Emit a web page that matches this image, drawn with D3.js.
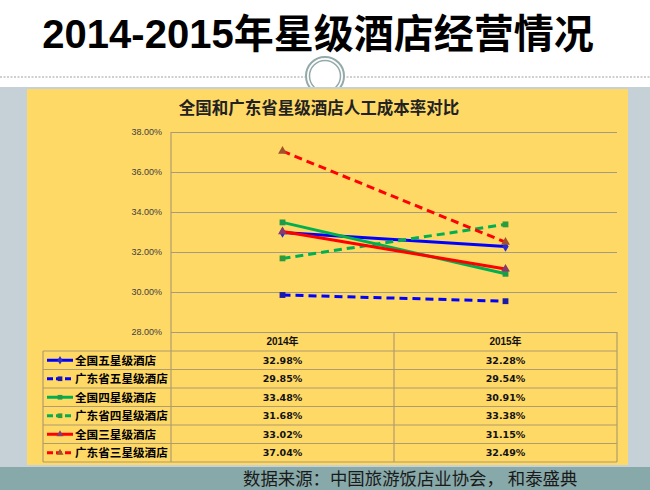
<!DOCTYPE html>
<html>
<head>
<meta charset="utf-8">
<script src="https://cdn.jsdelivr.net/npm/d3@7"></script>
<style>
  body { margin: 0; background: #fff; }
  svg { display: block; }
</style>
</head>
<body>
<div id="chart"></div>
<script>
// Data
var years = ["2014年", "2015年"];
var seriesNames = ["全国五星级酒店", "广东省五星级酒店", "全国四星级酒店", "广东省四星级酒店", "全国三星级酒店", "广东省三星级酒店"];
var values2014 = [0.3298, 0.2985, 0.3348, 0.3168, 0.3302, 0.3704];
var values2015 = [0.3228, 0.2954, 0.3091, 0.3338, 0.3115, 0.3249];
var yTicks = [0.28, 0.30, 0.32, 0.34, 0.36, 0.38];

var lineColors = ["#0000ff", "#0000ff", "#00b050", "#00b050", "#ff0000", "#ff0000"];
var markColors = ["#2a2ad0", "#1a1aa8", "#1f9a48", "#2f9a3a", "#8a3a6a", "#a0522d"];
var dashed = [false, true, false, true, false, true];
var shapes = [d3.symbolDiamond, d3.symbolSquare, d3.symbolSquare, d3.symbolSquare, d3.symbolTriangle, d3.symbolTriangle];

var w = 650, h = 490;
var plot = {left: 171, right: 617, top: 132, bottom: 332};
var rowTop = 351, rowH = 18.5;

var svg = d3.select("#chart").append("svg")
    .attr("width", w)
    .attr("height", h);

// Page background pieces
svg.append("rect").attr("x", 0).attr("y", 87).attr("width", w).attr("height", 382).attr("fill", "#c6d1d7");
svg.append("rect").attr("x", 0).attr("y", 467).attr("width", w).attr("height", 23).attr("fill", "#87a9a9");
svg.append("rect").attr("x", 27).attr("y", 89).attr("width", 601).attr("height", 376).attr("fill", "#ffd966");

// dotted separator and ring ornament
svg.append("line")
    .attr("x1", 0).attr("x2", w).attr("y1", 77).attr("y2", 77)
    .attr("stroke", "#a0a0a0").attr("stroke-width", 1).attr("stroke-dasharray", "2,1.5");
svg.append("circle").attr("cx", 325).attr("cy", 76).attr("r", 19)
    .attr("fill", "#fff").attr("stroke", "#93aaa9").attr("stroke-width", 2);
svg.append("circle").attr("cx", 325).attr("cy", 76).attr("r", 15.5)
    .attr("fill", "none").attr("stroke", "#93aaa9").attr("stroke-width", 1.5);
// yellow panel covers the lower part of the ring
svg.append("rect").attr("x", 27).attr("y", 89).attr("width", 601).attr("height", 12).attr("fill", "#ffd966");
svg.append("rect").attr("x", 300).attr("y", 87).attr("width", 50).attr("height", 2).attr("fill", "#c6d1d7");

// Main title
svg.append("text")
    .attr("x", 318).attr("y", 48)
    .attr("text-anchor", "middle")
    .style("font-family", "'Liberation Sans', 'Noto Sans CJK SC', sans-serif")
    .style("font-weight", "bold")
    .style("font-size", "40px")
    .attr("fill", "#000")
    .text("2014-2015年星级酒店经营情况");

// Chart title
svg.append("text")
    .attr("x", 319).attr("y", 114)
    .attr("text-anchor", "middle")
    .style("font-family", "'Noto Sans CJK SC', sans-serif")
    .style("font-weight", "bold")
    .style("font-size", "16.5px")
    .attr("fill", "#222")
    .text("全国和广东省星级酒店人工成本率对比");

// Scales
var xScale = d3.scaleBand()
    .domain(years)
    .range([plot.left, plot.right])
    .padding(0);

var yScale = d3.scaleLinear()
    .domain([0.28, 0.38])
    .range([plot.bottom, plot.top]);

// Y axis with gridlines
var yAxis = d3.axisLeft(yScale)
    .tickValues(yTicks)
    .tickFormat(d3.format(".2%"))
    .tickSizeInner(-(plot.right - plot.left))
    .tickSizeOuter(0)
    .tickPadding(9);

var yG = svg.append("g")
    .attr("transform", "translate(" + plot.left + ",0)")
    .call(yAxis);
yG.select(".domain").remove();
yG.selectAll(".tick line").attr("stroke", "#a49c80").attr("stroke-width", 1.2);
yG.selectAll(".tick text")
    .attr("fill", "#404040")
    .style("font-family", "'Liberation Sans', Arial, sans-serif")
    .style("font-size", "9px");

// Data table grid
var tableColor = "#b09c6c";
var nRows = seriesNames.length;
var tableBottom = rowTop + nRows * rowH;

svg.append("line")
    .attr("x1", plot.left).attr("x2", plot.left)
    .attr("y1", plot.top).attr("y2", tableBottom)
    .attr("stroke", tableColor).attr("stroke-width", 1.2);

years.forEach(function(y) {
    svg.append("line")
        .attr("x1", xScale(y) + xScale.bandwidth()).attr("x2", xScale(y) + xScale.bandwidth())
        .attr("y1", plot.bottom).attr("y2", tableBottom)
        .attr("stroke", tableColor).attr("stroke-width", 1.2);
});
svg.append("line")
    .attr("x1", 43).attr("x2", 43)
    .attr("y1", rowTop).attr("y2", tableBottom)
    .attr("stroke", tableColor).attr("stroke-width", 1.2);

d3.range(nRows + 1).forEach(function(i) {
    svg.append("line")
        .attr("x1", 43).attr("x2", plot.right)
        .attr("y1", rowTop + i * rowH).attr("y2", rowTop + i * rowH)
        .attr("stroke", tableColor).attr("stroke-width", 1.2);
});

// Header row
svg.selectAll("text.year")
    .data(years)
    .enter()
    .append("text")
    .attr("class", "year")
    .attr("x", function(d) { return xScale(d) + xScale.bandwidth() / 2; })
    .attr("y", plot.bottom + 13)
    .attr("text-anchor", "middle")
    .style("font-family", "'Liberation Sans', 'Noto Sans CJK SC', sans-serif")
    .style("font-weight", "bold")
    .style("font-size", "10px")
    .attr("fill", "#111")
    .text(function(d) { return d; });

// Series records
var records = seriesNames.map(function(name, i) {
    return {
        name: name,
        i: i,
        values: [
            {year: years[0], v: values2014[i]},
            {year: years[1], v: values2015[i]}
        ]
    };
});

var fmt = d3.format(".2%");
var rows = svg.selectAll("g.row")
    .data(records)
    .enter()
    .append("g")
    .attr("class", "row")
    .attr("transform", function(d, i) { return "translate(0," + (rowTop + i * rowH) + ")"; });

// legend key
rows.append("line")
    .attr("x1", 47).attr("x2", 73)
    .attr("y1", rowH / 2).attr("y2", rowH / 2)
    .attr("stroke", function(d) { return lineColors[d.i]; })
    .attr("stroke-width", 3)
    .attr("stroke-dasharray", function(d) { return dashed[d.i] ? "6,3" : null; });
rows.append("path")
    .attr("transform", "translate(60," + (rowH / 2) + ")")
    .attr("d", function(d) { return d3.symbol().type(shapes[d.i]).size(22)(); })
    .attr("fill", function(d) { return markColors[d.i]; });
rows.append("text")
    .attr("x", 75).attr("y", rowH / 2 + 4.5)
    .style("font-family", "'Noto Sans CJK SC', sans-serif")
    .style("font-weight", "bold")
    .style("font-size", "11.6px")
    .attr("fill", "#000")
    .text(function(d) { return d.name; });

rows.selectAll("text.val")
    .data(function(d) { return d.values; })
    .enter()
    .append("text")
    .attr("class", "val")
    .attr("x", function(d) { return xScale(d.year) + xScale.bandwidth() / 2; })
    .attr("y", rowH / 2 + 3.5)
    .attr("text-anchor", "middle")
    .style("font-family", "'DejaVu Sans', sans-serif")
    .style("font-weight", "bold")
    .style("font-size", "9.5px")
    .attr("fill", "#111")
    .text(function(d) { return fmt(d.v); });

// Lines
var line = d3.line()
    .x(function(d) { return xScale(d.year) + xScale.bandwidth() / 2; })
    .y(function(d) { return yScale(d.v); });

var seriesG = svg.selectAll("g.series")
    .data(records)
    .enter()
    .append("g")
    .attr("class", "series");

seriesG.append("path")
    .attr("d", function(d) { return line(d.values); })
    .attr("fill", "none")
    .attr("stroke", function(d) { return lineColors[d.i]; })
    .attr("stroke-width", 3)
    .attr("stroke-dasharray", function(d) { return dashed[d.i] ? "8,5" : null; });

seriesG.selectAll("path.mark")
    .data(function(d) { return d.values.map(function(v) { return {v: v.v, year: v.year, i: d.i}; }); })
    .enter()
    .append("path")
    .attr("class", "mark")
    .attr("transform", function(d) {
        return "translate(" + (xScale(d.year) + xScale.bandwidth() / 2) + "," + yScale(d.v) + ")";
    })
    .attr("d", function(d) { return d3.symbol().type(shapes[d.i]).size(34)(); })
    .attr("fill", function(d) { return markColors[d.i]; });

// Source line
svg.append("text")
    .attr("x", 243).attr("y", 485)
    .style("font-family", "'Noto Sans CJK SC', sans-serif")
    .style("font-size", "17.4px")
    .attr("fill", "#1a1a1a")
    .text("数据来源：中国旅游饭店业协会， 和泰盛典");
</script>
</body>
</html>
